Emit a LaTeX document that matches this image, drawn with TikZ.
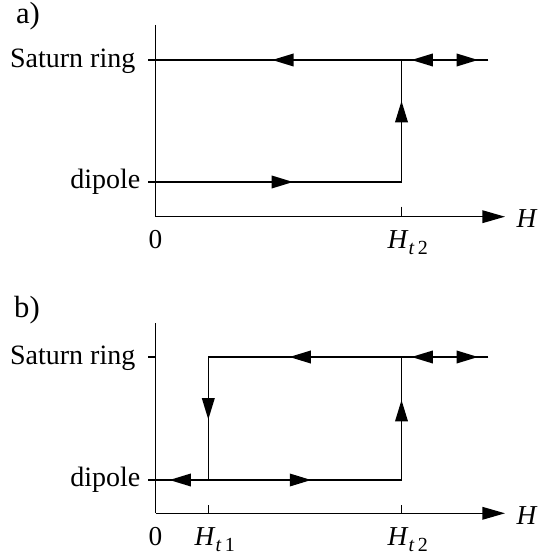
\documentclass[tikz,border=0pt]{standalone}
\usepackage{fontspec}
\setmainfont{Liberation Serif}
\usetikzlibrary{arrows.meta,decorations.markings}

\tikzset{every picture/.style={line width=1pt}}
\tikzset{
  lbl/.style={inner sep=0.75pt,font=\fontsize{21}{25}\selectfont},
  panel/.style={inner sep=0.75pt,font=\fontsize{23}{27}\selectfont},
  sym/.style={inner sep=0.75pt,font=\fontsize{20.5}{24}\selectfont},
  headtip/.tip={Triangle[length=16pt,width=9.5pt]},
  axistip/.tip={Triangle[length=17pt,width=9.5pt]},
  midtip/.style={postaction={decorate,decoration={markings,mark=at position #1 with {\arrow{headtip}}}}},
}
\newcommand{\Hsub}[1]{\textit{H}\raisebox{-4.5pt}{\fontsize{15}{17}\selectfont\textit{t}\hspace{2.5pt}#1}}

\begin{document}
\begin{tikzpicture}[x=0.75pt,y=0.75pt,yscale=-1,xscale=1]
		\useasboundingbox (0,0) rectangle (549,555);
		
		%%%% a)
		\coordinate (aO) at (155.5,216.7);
		\coordinate (aTop) at (155.5,25);
		\coordinate (aEnd) at (505,216.7);
		\coordinate (aSat) at (148,60);
		\coordinate (aDip) at (148,182);
		\coordinate (aUp2) at (401.5,60);
		\coordinate (aLo2) at (401.5,182);
		\coordinate (aRight) at (488.4,60);
		\coordinate (aTk2) at (401.5,206.7);
		\coordinate (aAx2) at (401.5,216.7);
		
		%Axes
		\draw (aTop) -- (aO);
		\draw [-axistip] (aO) -- (aEnd);
		%Ticks
		\draw (aTk2) -- (aAx2);
		%Straight Lines (dipole branch)
		\draw [midtip=0.572] (aDip) -- (aLo2);
		%Straight Lines (jump up)
		\draw [midtip=0.664] (aLo2) -- (aUp2);
		%Straight Lines (Saturn ring branch)
		\draw [midtip=0.51] (aUp2) -- (aSat);
		\draw [midtip=0.88] (aUp2) -- (aRight);
		\draw [midtip=0.885] (aRight) -- (aUp2);
		
		% Text Node
		\node (aLab) at (28,16) [panel] {a)};
		% Text Node
		\node (aSatLab) at (137,61) [lbl,anchor=east] {Saturn ring};
		% Text Node
		\node (aDipLab) at (142,182) [lbl,anchor=east] {dipole};
		% Text Node
		\node (aZero) at (155.5,228.5) [sym,anchor=north] {0};
		% Text Node
		\node (aHt2) at (386,229) [sym,anchor=north west] {\Hsub{2}};
		% Text Node
		\node (aH) at (515,218.5) [sym,anchor=west] {\textit{H}};
		
		%%%% b)
		\coordinate (bO) at (155.5,513.3);
		\coordinate (bTop) at (155.5,323);
		\coordinate (bEnd) at (505,513.3);
		\coordinate (bSat) at (148,357);
		\coordinate (bDip) at (148,480);
		\coordinate (bUp1) at (208.3,357);
		\coordinate (bLo1) at (208.3,480);
		\coordinate (bUp2) at (401.5,357);
		\coordinate (bLo2) at (401.5,480);
		\coordinate (bRight) at (488.4,357);
		\coordinate (bTk1) at (208.3,505);
		\coordinate (bAx1) at (208.3,513.3);
		\coordinate (bTk2) at (401.5,505);
		\coordinate (bAx2) at (401.5,513.3);
		
		%Axes
		\draw (bTop) -- (bO);
		\draw [-axistip] (bO) -- (bEnd);
		%Ticks
		\draw (bSat) -- (bSat -| bO);
		\draw (bTk1) -- (bAx1);
		\draw (bTk2) -- (bAx2);
		%Straight Lines (dipole branch)
		\draw [midtip=0.643] (bLo1) -- (bDip);
		\draw [midtip=0.532] (bLo1) -- (bLo2);
		%Straight Lines (jumps)
		\draw [midtip=0.65] (bLo2) -- (bUp2);
		\draw [midtip=0.508] (bUp1) -- (bLo1);
		%Straight Lines (Saturn ring branch)
		\draw [midtip=0.58] (bUp2) -- (bUp1);
		\draw [midtip=0.88] (bUp2) -- (bRight);
		\draw [midtip=0.885] (bRight) -- (bUp2);
		
		% Text Node
		\node (bLab) at (27,310) [panel] {b)};
		% Text Node
		\node (bSatLab) at (137,358) [lbl,anchor=east] {Saturn ring};
		% Text Node
		\node (bDipLab) at (142,480) [lbl,anchor=east] {dipole};
		% Text Node
		\node (bZero) at (155.5,525.5) [sym,anchor=north] {0};
		% Text Node
		\node (bHt1) at (193,526) [sym,anchor=north west] {\Hsub{1}};
		% Text Node
		\node (bHt2) at (386,526) [sym,anchor=north west] {\Hsub{2}};
		% Text Node
		\node (bH) at (515,515.5) [sym,anchor=west] {\textit{H}};
		
\end{tikzpicture}
\end{document}
